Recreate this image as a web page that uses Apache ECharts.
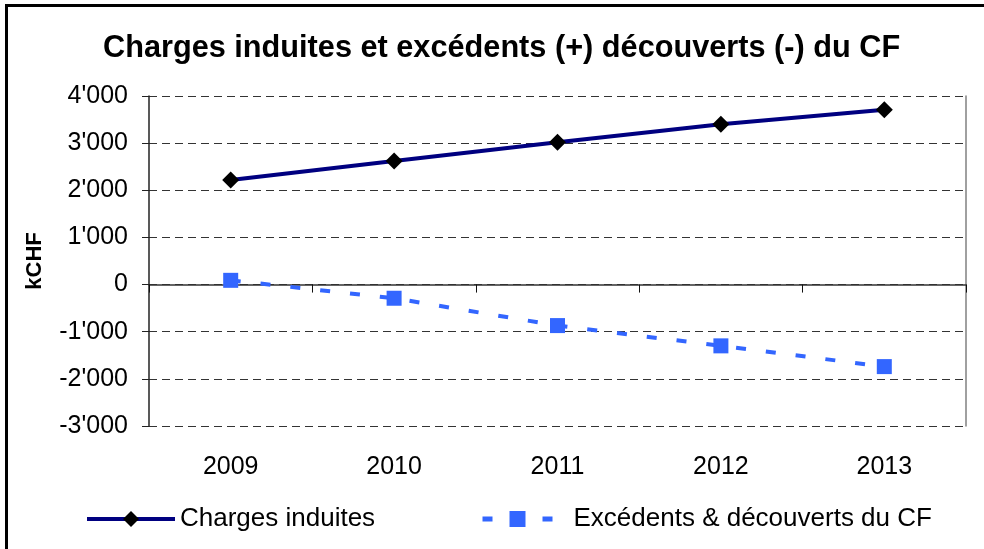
<!DOCTYPE html>
<html>
<head>
<meta charset="utf-8">
<script src="https://cdn.jsdelivr.net/npm/echarts@6/dist/echarts.min.js"></script>
<style>
html,body{margin:0;padding:0;background:#fff;}
#c{width:984px;height:549px;}
</style>
</head>
<body>
<div id="c"></div>
<script>
const titleText = 'Charges induites et excédents (+) découverts (-) du CF';
const yAxisName = 'kCHF';
const years = ['2009', '2010', '2011', '2012', '2013'];
const chargesName = 'Charges induites';
const charges = [2220, 2620, 3020, 3400, 3710];
const excedentsName = 'Excédents & découverts du CF';
const excedents = [90, -290, -870, -1300, -1740];
const yMin = -3000, yMax = 4000, yStep = 1000;

function fmt(v) {
  const neg = v < 0;
  let s = String(Math.abs(v));
  s = s.replace(/\B(?=(\d{3})+(?!\d))/g, "'");
  return (neg ? '-' : '') + s;
}

const FONT = 'Liberation Sans, Arial, sans-serif';
const chart = echarts.init(document.getElementById('c'), null, {renderer: 'canvas'});
chart.setOption({
  backgroundColor: '#fff',
  animation: false,
  title: {
    text: titleText,
    left: 103,
    top: 33,
    padding: 0,
    textStyle: {fontFamily: FONT, fontWeight: 'bold', fontSize: 30.7, color: '#000'}
  },
  graphic: [{
    type: 'rect',
    shape: {x: 6.5, y: 5.5, width: 2000, height: 2000},
    style: {fill: 'none', stroke: '#000', lineWidth: 3},
    silent: true
  }],
  grid: {left: 149, right: 18, top: 96, bottom: 123, containLabel: false},
  legend: [{
    data: [chargesName],
    left: 85, top: 506, padding: 0,
    itemWidth: 88, itemHeight: 20,
    lineStyle: {width: 4},
    textStyle: {fontFamily: FONT, fontSize: 26, color: '#000'}
  }, {
    data: [excedentsName],
    left: 480, top: 506, padding: 0,
    itemWidth: 70, itemHeight: 20,
    lineStyle: {width: 5},
    textStyle: {fontFamily: FONT, fontSize: 26, color: '#000', padding: [0, 0, 0, 16]}
  }],
  xAxis: [{
    type: 'category',
    data: years,
    boundaryGap: true,
    position: 'bottom',
    axisLine: {show: true, onZero: true, lineStyle: {color: '#333', width: 1.5}},
    axisTick: {show: true, length: 8, inside: false, lineStyle: {color: '#111'}},
    axisLabel: {show: false}
  }, {
    type: 'category',
    data: years,
    boundaryGap: true,
    position: 'bottom',
    axisLine: {show: false, onZero: false},
    axisTick: {show: false},
    axisLabel: {show: true, margin: 29, fontFamily: FONT, fontSize: 25, color: '#000'}
  }],
  yAxis: [{
    type: 'value',
    min: yMin, max: yMax, interval: yStep,
    name: yAxisName,
    nameLocation: 'middle',
    nameGap: 103,
    nameRotate: 90,
    nameTextStyle: {fontFamily: FONT, fontWeight: 'bold', fontSize: 22, color: '#000'},
    axisLine: {show: true, lineStyle: {color: '#222', width: 1.5}},
    axisTick: {show: true, length: 7, inside: false, lineStyle: {color: '#222'}},
    axisLabel: {margin: 21, fontFamily: FONT, fontSize: 25, color: '#000', formatter: fmt},
    splitLine: {show: true, lineStyle: {color: '#333', type: [8, 5], width: 1}}
  }, {
    type: 'value',
    min: yMin, max: yMax, interval: yStep,
    position: 'right',
    axisLine: {show: true, lineStyle: {color: '#808080', width: 1.5}},
    axisTick: {show: false},
    axisLabel: {show: false},
    splitLine: {show: false}
  }],
  series: [{
    name: chargesName,
    type: 'line',
    data: charges,
    xAxisIndex: 0, yAxisIndex: 0,
    symbol: 'diamond',
    symbolSize: 17,
    lineStyle: {color: '#000080', width: 4},
    itemStyle: {color: '#000'},
    z: 3
  }, {
    name: excedentsName,
    type: 'line',
    data: excedents,
    xAxisIndex: 0, yAxisIndex: 0,
    symbol: 'rect',
    symbolSize: 15,
    lineStyle: {color: '#3366FF', width: 4, type: [10, 20]},
    itemStyle: {color: '#3366FF'},
    z: 3
  }]
});
</script>
</body>
</html>
